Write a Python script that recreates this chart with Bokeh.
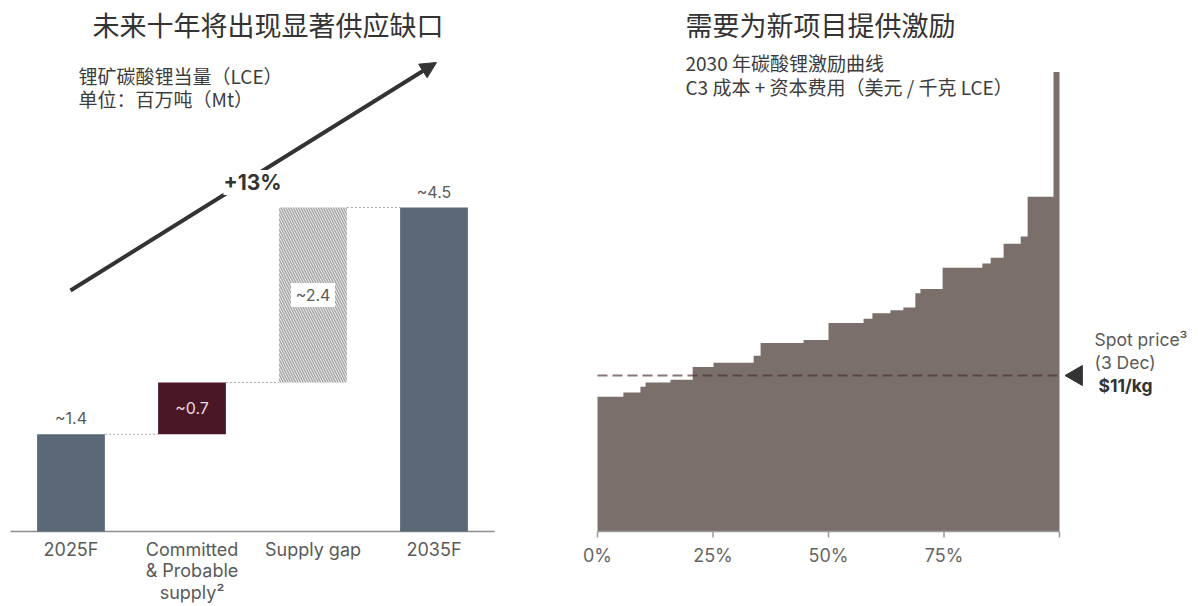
from bokeh.plotting import figure
from bokeh.layouts import row
from bokeh.models import Label, Arrow, NormalHead
from bokeh.core.properties import value
from bokeh.embed import file_html
from bokeh.resources import INLINE
import numpy as np

# ---------------- data ----------------
# Left: supply build-up, Mt LCE
categories = ["2025F", "Committed\n& Probable\nsupply\u00b2", "Supply gap", "2035F"]
bar_values = [1.35, 0.72, 2.43, 4.5]
value_labels = ["~1.4", "~0.7", "~2.4", "~4.5"]
growth_label = "+13%"

# Right: 2030 lithium carbonate incentive curve, US$/kg LCE
share_edges = [0, 5.6, 9.3, 10.4, 15.8, 20.6, 25.1, 33.8, 35.3, 44.6, 50.0, 57.6,
               59.5, 63.4, 66.2, 68.8, 69.9, 74.7, 83.3, 85.1, 87.9, 91.6, 93.1, 98.7, 100]
incentive_cost = [9.5, 9.8, 10.2, 10.5, 10.7, 11.6, 11.9, 12.4, 13.3, 13.5, 14.7, 15.0,
                  15.4, 15.6, 15.8, 16.8, 17.1, 18.6, 18.9, 19.3, 20.3, 20.8, 23.6, 32.4]
spot_price = 11
x_ticks = [0, 25, 50, 75, 100]
x_tick_labels = ["0%", "25%", "50%", "75%", ""]

# ---------------- style ----------------
CJK = value("Noto Sans CJK SC")
LAT = value("Inter")
TXT = "#5a5a5a"
DARK = "#333333"
SUB = "#3c3c3c"
W1, W2, H = 568, 632, 604

# left panel pixel -> data helpers
LPX, LPY = 121.0, 72.0
def lx(px): return (px - 70.5) / LPX
def ly(py): return (531 - py) / LPY
# right panel pixel -> data helpers (page pixels)
RPX, RPY = 4.62, 14.18
def rx(px): return (px - 597) / RPX
def ry(py): return (531 - py) / RPY

# ================= LEFT =================
p1 = figure(width=W1, height=H, x_range=(lx(0), lx(W1)), y_range=(ly(H), ly(0)),
            output_backend="svg", toolbar_location=None,
            x_axis_location=None, y_axis_location=None, min_border=0)
p1.outline_line_color = None
p1.xgrid.visible = False
p1.ygrid.visible = False

n = len(bar_values)
xs = list(range(n))
bottoms = [0, bar_values[0], bar_values[0] + bar_values[1], 0]
tops = [bottoms[i] + bar_values[i] for i in range(3)] + [bar_values[3]]
bw = 0.56

# baseline
p1.segment(x0=[-0.5], x1=[n - 0.5], y0=[0], y1=[0], line_color="#8c8c8c", line_width=1.5)

# connectors
for i in range(n - 1):
    p1.segment(x0=[i + bw / 2], x1=[i + 1 - bw / 2], y0=[tops[i]], y1=[tops[i]],
               line_color="#a8a8a8", line_width=1, line_dash="2 2")

# bars
p1.vbar(x=[0, 3], bottom=[bottoms[0], bottoms[3]], top=[tops[0], tops[3]], width=bw,
        fill_color="#5b6878", line_color=None)
p1.vbar(x=[1], bottom=[bottoms[1]], top=[tops[1]], width=bw, fill_color="#4a1727", line_color=None)
p1.vbar(x=[2], bottom=[bottoms[2]], top=[tops[2]], width=bw, fill_color="white", line_color=None,
        hatch_pattern="\\", hatch_color="#a6a6a6", hatch_scale=5, hatch_weight=1.6)

# value labels
p1.text(x=[0, 3], y=[tops[0], tops[3]], text=[value_labels[0], value_labels[3]],
        text_align="center", text_baseline="middle", y_offset=-16,
        text_font=LAT, text_font_size="16px", text_color=TXT)
mid1 = (bottoms[1] + tops[1]) / 2
p1.text(x=[1], y=[mid1], text=[value_labels[1]], text_align="center", text_baseline="middle",
        text_font=LAT, text_font_size="16px", text_color="#eadde1")
mid2 = (bottoms[2] + tops[2]) / 2
p1.rect(x=[2], y=[mid2], width=44, height=24, width_units="screen", height_units="screen",
        fill_color="white", line_color=None)
p1.text(x=[2], y=[mid2], text=[value_labels[2]], text_align="center", text_baseline="middle",
        text_font=LAT, text_font_size="16px", text_color=TXT)

# category labels
p1.text(x=xs, y=[0] * n, text=categories, text_align="center", text_baseline="top",
        y_offset=7, text_font=LAT, text_font_size="18px", text_color=TXT, text_line_height=1.04)

# titles
p1.text(x=[lx(92)], y=[ly(24)], text=["未来十年将出现显著供应缺口"], text_baseline="middle",
        text_font=CJK, text_font_size="27px", text_color=DARK)
p1.text(x=[lx(78)], y=[ly(75)], text=["锂矿碳酸锂当量（LCE）"],
        text_baseline="middle", text_font=CJK, text_font_size="19px", text_color=SUB)
p1.text(x=[lx(78)], y=[ly(98)], text=["单位：百万吨（Mt）"],
        text_baseline="middle", text_font=CJK, text_font_size="19px", text_color=SUB)

# growth arrow
arrow = Arrow(x_start=lx(70), y_start=ly(290), x_end=lx(436), y_end=ly(62),
              line_color=DARK, line_width=4,
              end=NormalHead(size=16, fill_color=DARK, line_color=DARK))
p1.add_layout(arrow)
p1.add_layout(Label(x=lx(252), y=ly(182), text=growth_label, text_align="center",
                    text_baseline="middle", text_font="Inter", text_font_style="bold",
                    text_font_size="21px", text_color=DARK, background_fill_color="white"))

# ================= RIGHT =================
p2 = figure(width=W2, height=H, x_range=(rx(W1), rx(W1 + W2)), y_range=(ry(H), ry(0)),
            output_backend="svg", toolbar_location=None,
            x_axis_location=None, y_axis_location=None, min_border=0)
p2.outline_line_color = None
p2.xgrid.visible = False
p2.ygrid.visible = False

# step area
px_, py_ = [share_edges[0]], [0]
for i, c in enumerate(incentive_cost):
    px_ += [share_edges[i], share_edges[i + 1]]
    py_ += [c, c]
px_ += [share_edges[-1]]
py_ += [0]
p2.patch(x=px_, y=py_, fill_color="#7a6f6a", line_color=None)

# x axis (baseline, ticks, labels)
p2.segment(x0=[x_ticks[0]], x1=[x_ticks[-1]], y0=[0], y1=[0], line_color="#9a9a9a", line_width=1.5)
p2.segment(x0=x_ticks, x1=x_ticks, y0=[0] * len(x_ticks), y1=[-6 / RPY] * len(x_ticks),
           line_color="#9a9a9a", line_width=1.5)
p2.text(x=x_ticks, y=[0] * len(x_ticks), text=x_tick_labels, text_align="center",
        text_baseline="middle", y_offset=24, text_font=LAT, text_font_size="18px",
        text_color="#666666")

# spot price
p2.line(x=[share_edges[0], share_edges[-1]], y=[spot_price, spot_price],
        line_color="#4a2c2c", line_alpha=0.65, line_width=2, line_dash="10 5")
p2.scatter(x=[share_edges[-1] + 3.7], y=[spot_price], marker="triangle", size=20,
           angle=np.pi / 2, fill_color=DARK, line_color=DARK)
p2.text(x=[share_edges[-1]] * 2, y=[spot_price] * 2, text=["Spot price\u00b3", "(3 Dec)"],
        x_offset=35, y_offset=[-36, -13], text_baseline="middle",
        text_font=LAT, text_font_size="17.5px", text_color=TXT)
p2.text(x=[share_edges[-1]], y=[spot_price], text=["$11/kg"], x_offset=39, y_offset=10,
        text_baseline="middle", text_font=LAT, text_font_style="bold",
        text_font_size="17.5px", text_color=DARK)

# titles
p2.text(x=[rx(685)], y=[ry(24)], text=["需要为新项目提供激励"], text_baseline="middle",
        text_font=CJK, text_font_size="27px", text_color=DARK)
p2.text(x=[rx(685)], y=[ry(62)], text=["2030 年碳酸锂激励曲线"], text_baseline="middle",
        text_font=CJK, text_font_size="19px", text_color=SUB)
p2.text(x=[rx(685)], y=[ry(86)], text=["C3 成本 + 资本费用（美元 / 千克 LCE）"],
        text_baseline="middle", text_font=CJK, text_font_size="19px", text_color=SUB)

layout = row(p1, p2)
open("out.html", "w").write(file_html(layout, INLINE))
